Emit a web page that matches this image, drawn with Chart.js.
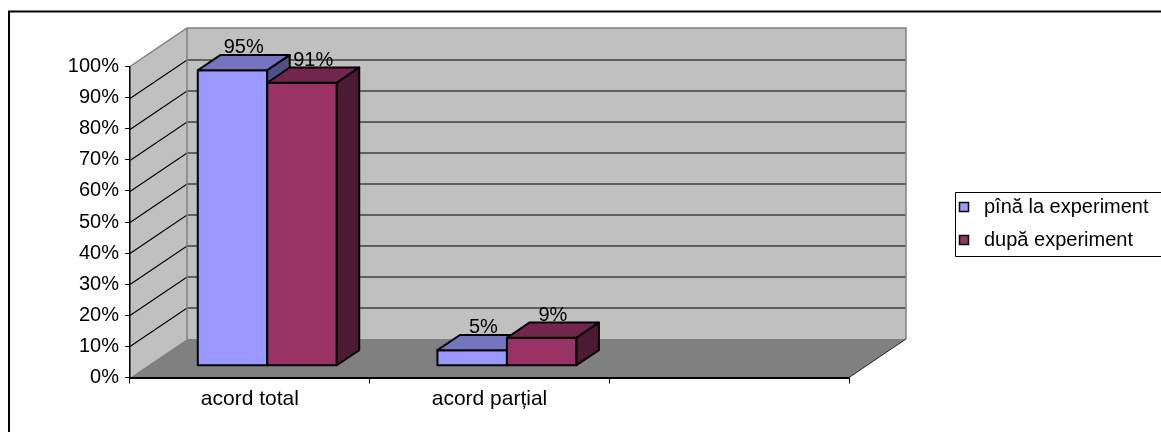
<!DOCTYPE html>
<html>
<head>
<meta charset="utf-8">
<script src="https://cdn.jsdelivr.net/npm/chart.js@4/dist/chart.umd.min.js"></script>
<style>
  html, body { margin: 0; padding: 0; background: #ffffff; }
  #wrap { width: 1161px; height: 432px; position: relative; }
</style>
</head>
<body>
<div id="wrap"><canvas id="c" width="1161" height="432"></canvas></div>
<script>
// ---- data ----
const categories = ['acord total', 'acord parțial', ''];
const seriesNames = ['pînă la experiment', 'după experiment'];
const beforeValues = [0.95, 0.05, null];
const afterValues = [0.91, 0.09, null];
const yTickLabels = ['0%', '10%', '20%', '30%', '40%', '50%', '60%', '70%', '80%', '90%', '100%'];

// ---- styles ----
const FONT = '"Liberation Sans", Arial, sans-serif';
const frontColors = ['#9999FF', '#993366'];
const topColors = ['#7474C0', '#73264D'];
const sideColors = ['#505088', '#4D1A33'];
const WALL = '#C0C0C0';
const FLOOR = '#808080';
const WALL_EDGE = '#808080';

// oblique depth of the plot box and the slab the columns occupy inside it
const DEPTH = { dx: 57, dy: -38.5 };
const BAR_NEAR = 0.306;
const BAR_FAR = 0.70;

function poly(ctx, pts, fill, stroke, lw) {
  ctx.beginPath();
  ctx.moveTo(pts[0][0], pts[0][1]);
  for (let i = 1; i < pts.length; i++) ctx.lineTo(pts[i][0], pts[i][1]);
  ctx.closePath();
  if (fill) { ctx.fillStyle = fill; ctx.fill(); }
  if (stroke) { ctx.strokeStyle = stroke; ctx.lineWidth = lw || 1; ctx.stroke(); }
}

const scene3d = {
  id: 'scene3d',
  beforeDraw(chart) {
    const ctx = chart.ctx;
    const a = chart.chartArea;
    const ys = chart.scales.y;
    const { dx, dy } = DEPTH;
    const y0 = ys.getPixelForValue(0), y1 = ys.getPixelForValue(1);
    ctx.save();
    // outer frame
    ctx.strokeStyle = '#000';
    ctx.lineWidth = 2;
    ctx.beginPath();
    ctx.moveTo(9, 445); ctx.lineTo(9, 11.5); ctx.lineTo(1175, 11.5);
    ctx.stroke();

    // back wall
    poly(ctx, [[a.left + dx, y1 + dy], [a.right + dx, y1 + dy], [a.right + dx, y0 + dy], [a.left + dx, y0 + dy]], WALL, null);
    // side wall
    poly(ctx, [[a.left, y1], [a.left + dx, y1 + dy], [a.left + dx, y0 + dy], [a.left, y0]], WALL, null);
    // floor
    poly(ctx, [[a.left, y0], [a.left + dx, y0 + dy], [a.right + dx, y0 + dy], [a.right, y0]], FLOOR, null);

    // gridlines on walls
    ctx.strokeStyle = '#000';
    ctx.lineWidth = 1.2;
    for (let i = 1; i < yTickLabels.length - 1; i++) {
      const v = i / (yTickLabels.length - 1);
      const yy = Math.round(ys.getPixelForValue(v)) + 0.5;
      ctx.beginPath();
      ctx.moveTo(a.left, yy);
      ctx.lineTo(a.left + dx, yy + dy);
      ctx.lineTo(a.right + dx, yy + dy);
      ctx.stroke();
    }
    // wall outlines
    ctx.strokeStyle = WALL_EDGE;
    ctx.lineWidth = 1.5;
    ctx.beginPath();
    ctx.moveTo(a.left, y1);
    ctx.lineTo(a.left + dx, y1 + dy);
    ctx.lineTo(a.right + dx, y1 + dy);
    ctx.lineTo(a.right + dx, y0 + dy);
    ctx.moveTo(a.left + dx, y1 + dy);
    ctx.lineTo(a.left + dx, y0 + dy);
    ctx.stroke();
    // floor right edge
    ctx.strokeStyle = '#222';
    ctx.lineWidth = 1;
    ctx.beginPath();
    ctx.moveTo(a.right, y0);
    ctx.lineTo(a.right + dx, y0 + dy);
    ctx.stroke();
    ctx.restore();
  },
  afterDatasetsDraw(chart) {
    const ctx = chart.ctx;
    const { dx, dy } = DEPTH;
    const nx = dx * BAR_NEAR, ny = dy * BAR_NEAR;
    const bx = dx * (BAR_FAR - BAR_NEAR), by = dy * (BAR_FAR - BAR_NEAR);
    const labels = [];
    ctx.save();
    ctx.lineJoin = 'round';
    chart.data.datasets.forEach((ds, di) => {
      const meta = chart.getDatasetMeta(di);
      meta.data.forEach((bar, i) => {
        const v = ds.data[i];
        if (v == null) return;
        const p = bar.getProps(['x', 'y', 'base', 'width'], true);
        const L = p.x - p.width / 2 + nx, R = p.x + p.width / 2 + nx;
        const T = p.y + ny, B = p.base + ny;
        // front face
        poly(ctx, [[L, T], [R, T], [R, B], [L, B]], frontColors[di], '#000', 2);
        // top face
        poly(ctx, [[L, T], [L + bx, T + by], [R + bx, T + by], [R, T]], topColors[di], '#000', 2);
        // side face
        poly(ctx, [[R, T], [R + bx, T + by], [R + bx, B + by], [R, B]], sideColors[di], '#000', 2);
        labels.push({ x: (L + R) / 2 + bx / 2, y: T + by - 2, text: Math.round(v * 100) + '%' });
      });
    });
    ctx.fillStyle = '#000';
    ctx.font = '20px ' + FONT;
    ctx.textAlign = 'center';
    ctx.textBaseline = 'alphabetic';
    labels.forEach(l => ctx.fillText(l.text, l.x, l.y));
    ctx.restore();
  },
  afterDraw(chart) {
    const ctx = chart.ctx;
    ctx.save();
    // legend box
    ctx.strokeStyle = '#000';
    ctx.lineWidth = 1;
    ctx.beginPath();
    ctx.moveTo(1175, 192.5); ctx.lineTo(955.5, 192.5); ctx.lineTo(955.5, 256.5); ctx.lineTo(1175, 256.5);
    ctx.stroke();
    ctx.font = '20px ' + FONT;
    ctx.textAlign = 'left';
    ctx.textBaseline = 'middle';
    chart.data.datasets.forEach((ds, di) => {
      const cy = 207 + di * 33;
      ctx.fillStyle = frontColors[di];
      ctx.fillRect(959.5, cy - 4.5, 9, 9);
      ctx.strokeStyle = '#000';
      ctx.lineWidth = 1.5;
      ctx.strokeRect(959.5, cy - 4.5, 9, 9);
      ctx.fillStyle = '#000';
      ctx.fillText(ds.label, 984, cy);
    });
    ctx.restore();
  }
};

const ctx = document.getElementById('c').getContext('2d');
new Chart(ctx, {
  type: 'bar',
  data: {
    labels: categories,
    datasets: [
      { label: seriesNames[0], data: beforeValues, backgroundColor: 'rgba(0,0,0,0)', borderWidth: 0 },
      { label: seriesNames[1], data: afterValues, backgroundColor: 'rgba(0,0,0,0)', borderWidth: 0 }
    ]
  },
  options: {
    responsive: false,
    animation: false,
    devicePixelRatio: 1,
    layout: { padding: { left: 0, top: 66.5, right: 312, bottom: 14.5 } },
    datasets: { bar: { categoryPercentage: 0.58, barPercentage: 1.0 } },
    plugins: { legend: { display: false }, tooltip: { enabled: false } },
    scales: {
      x: {
        offset: true,
        grid: { offset: true, drawOnChartArea: false, drawTicks: true, tickLength: 6, color: '#000', lineWidth: 1 },
        border: { color: '#000', width: 2 },
        ticks: { color: '#000', font: { family: FONT, size: 21 }, padding: 3, maxRotation: 0, autoSkip: false },
        afterFit(s) { s.height = 40; }
      },
      y: {
        min: 0, max: 1,
        grid: { drawOnChartArea: false, drawTicks: true, tickLength: 5, color: '#000', lineWidth: 1 },
        border: { color: '#000', width: 1.5 },
        ticks: { stepSize: 0.1, color: '#000', font: { family: FONT, size: 20 }, padding: 6,
                 callback: (v, i) => yTickLabels[i] },
        afterFit(s) { s.width = 130; }
      }
    }
  },
  plugins: [scene3d]
});
</script>
</body>
</html>
